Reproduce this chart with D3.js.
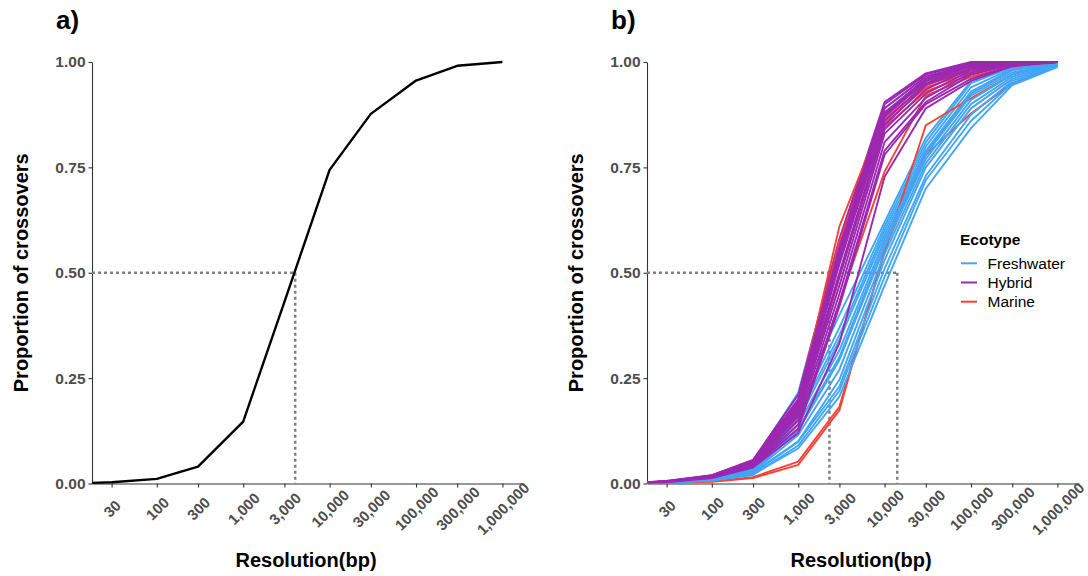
<!DOCTYPE html>
<html>
<head>
<meta charset="utf-8">
<script src="https://cdn.jsdelivr.net/npm/d3@7"></script>
<style>
  html, body { margin: 0; padding: 0; background: #fff; }
  svg { display: block; font-family: "Liberation Sans", Arial, Helvetica, sans-serif; }
</style>
</head>
<body>
<svg id="chart" width="1088" height="576"></svg>
<script>
// ---------------- data ----------------
const resolution = [10, 30, 100, 300, 1000, 3000, 10000, 30000, 100000, 300000, 1000000];
const xTickValues = [30, 100, 300, 1000, 3000, 10000, 30000, 100000, 300000, 1000000];
const yTickValues = [0, 0.25, 0.5, 0.75, 1];

const overallProportion = [0, 0.003, 0.011, 0.04, 0.147, 0.431, 0.744, 0.877, 0.956, 0.991, 1.0];
const overallHalf = 4000;
const ecotypeHalves = [2300, 14000];

const freshwater = [
  [0, 0.005, 0.018, 0.052, 0.215, 0.58, 0.89, 0.965, 0.995, 1.0, 1.0],
  [0, 0.004, 0.016, 0.048, 0.20, 0.55, 0.87, 0.955, 0.99, 0.998, 1.0],
  [0, 0.004, 0.014, 0.045, 0.19, 0.40, 0.62, 0.82, 0.955, 0.99, 1.0],
  [0, 0.004, 0.013, 0.040, 0.17, 0.37, 0.61, 0.81, 0.95, 0.988, 0.999],
  [0, 0.003, 0.012, 0.038, 0.16, 0.352, 0.60, 0.80, 0.94, 0.985, 0.998],
  [0, 0.003, 0.012, 0.036, 0.15, 0.34, 0.59, 0.79, 0.93, 0.982, 0.997],
  [0, 0.003, 0.011, 0.034, 0.14, 0.316, 0.58, 0.785, 0.925, 0.98, 0.996],
  [0, 0.003, 0.010, 0.032, 0.13, 0.30, 0.57, 0.78, 0.92, 0.975, 0.995],
  [0, 0.003, 0.010, 0.030, 0.125, 0.293, 0.56, 0.77, 0.91, 0.97, 0.994],
  [0, 0.002, 0.009, 0.028, 0.115, 0.27, 0.545, 0.76, 0.90, 0.965, 0.993],
  [0, 0.002, 0.008, 0.026, 0.10, 0.246, 0.53, 0.75, 0.89, 0.96, 0.992],
  [0, 0.002, 0.008, 0.024, 0.099, 0.23, 0.51, 0.73, 0.875, 0.955, 0.99],
  [0, 0.002, 0.007, 0.020, 0.09, 0.22, 0.49, 0.72, 0.86, 0.95, 0.99],
  [0, 0.002, 0.007, 0.022, 0.083, 0.206, 0.47, 0.70, 0.843, 0.945, 0.988]
];
const hybrid = [
  [0, 0.006, 0.020, 0.056, 0.21, 0.58, 0.905, 0.973, 1.0, 1.0, 1.0],
  [0, 0.006, 0.019, 0.055, 0.20, 0.57, 0.90, 0.97, 0.998, 1.0, 1.0],
  [0, 0.005, 0.019, 0.053, 0.195, 0.56, 0.89, 0.965, 0.995, 1.0, 1.0],
  [0, 0.005, 0.018, 0.052, 0.19, 0.55, 0.88, 0.96, 0.995, 1.0, 1.0],
  [0, 0.005, 0.018, 0.050, 0.185, 0.54, 0.875, 0.96, 0.99, 1.0, 1.0],
  [0, 0.005, 0.017, 0.050, 0.18, 0.53, 0.87, 0.955, 0.99, 0.998, 1.0],
  [0, 0.005, 0.017, 0.048, 0.175, 0.52, 0.86, 0.95, 0.99, 0.998, 1.0],
  [0, 0.004, 0.016, 0.047, 0.17, 0.50, 0.85, 0.945, 0.985, 0.997, 1.0],
  [0, 0.004, 0.016, 0.046, 0.165, 0.49, 0.84, 0.935, 0.985, 0.997, 1.0],
  [0, 0.004, 0.015, 0.045, 0.16, 0.47, 0.83, 0.925, 0.98, 0.996, 1.0],
  [0, 0.004, 0.015, 0.044, 0.15, 0.45, 0.81, 0.915, 0.975, 0.995, 1.0],
  [0, 0.004, 0.014, 0.042, 0.14, 0.43, 0.79, 0.905, 0.97, 0.994, 1.0],
  [0, 0.004, 0.014, 0.040, 0.13, 0.42, 0.78, 0.90, 0.96, 0.992, 1.0],
  [0, 0.003, 0.013, 0.038, 0.12, 0.333, 0.728, 0.89, 0.955, 0.99, 1.0]
];
const marine = [
  [0, 0.005, 0.015, 0.045, 0.19, 0.61, 0.88, 0.95, 0.985, 0.998, 1.0],
  [0, 0.005, 0.015, 0.044, 0.175, 0.575, 0.865, 0.945, 0.98, 0.997, 1.0],
  [0, 0.004, 0.014, 0.042, 0.165, 0.53, 0.855, 0.94, 0.975, 0.996, 1.0],
  [0, 0.004, 0.013, 0.040, 0.155, 0.49, 0.845, 0.93, 0.97, 0.995, 1.0],
  [0, 0.004, 0.012, 0.036, 0.13, 0.43, 0.74, 0.92, 0.965, 0.99, 1.0],
  [0, 0.002, 0.005, 0.015, 0.052, 0.182, 0.55, 0.85, 0.914, 0.97, 1.0],
  [0, 0.002, 0.004, 0.013, 0.044, 0.174, 0.555, 0.78, 0.878, 0.949, 0.99]
];

const ecotypes = ["Freshwater", "Hybrid", "Marine"];
const ecotypeColors = ["#42A5F5", "#9C27B0", "#F44336"];

// ---------------- layout ----------------
const svg = d3.select("#chart");
const fontFam = '"Liberation Sans", Arial, Helvetica, sans-serif';
const panelW = 432, plotTop = 62, plotBottom = 483.5;
const panels = [{ left: 92, label: "a)" }, { left: 647, label: "b)" }];

const y = d3.scaleLinear().domain([0, 1]).range([plotBottom, plotTop]);

function drawPanel(p, idx) {
  const x = d3.scaleLog().domain([Math.pow(10, 1.25), Math.pow(10, 6.25)]).range([p.left, p.left + panelW]);
  const g = svg.append("g");

  const clipId = "clip" + idx;
  svg.append("defs").append("clipPath").attr("id", clipId)
    .append("rect").attr("x", p.left).attr("y", plotTop - 10).attr("width", panelW).attr("height", plotBottom - plotTop + 20);

  const xAxis = d3.axisBottom(x).tickValues(xTickValues).tickFormat(d3.format(",")).tickSize(4).tickSizeOuter(0);
  const gx = g.append("g").attr("transform", `translate(0,${plotBottom})`).call(xAxis);
  gx.select(".domain").attr("stroke", "#333").attr("stroke-width", 1.1);
  gx.selectAll(".tick line").attr("stroke", "#333").attr("stroke-width", 1.1);
  gx.selectAll(".tick text")
    .attr("y", null).attr("dy", null)
    .attr("transform", "translate(0,25) rotate(-45)")
    .attr("text-anchor", "middle")
    .attr("dominant-baseline", "central")
    .attr("fill", "#4D4D4D")
    .style("font-family", fontFam).style("font-size", "15px").style("font-weight", "bold");

  const yAxis = d3.axisLeft(y).tickValues(yTickValues).tickFormat(d3.format(".2f")).tickSize(3.5).tickSizeOuter(0).tickPadding(3);
  const gy = g.append("g").attr("transform", `translate(${p.left},0)`).call(yAxis);
  gy.select(".domain").attr("stroke", "#333").attr("stroke-width", 1.1);
  gy.selectAll(".tick line").attr("stroke", "#333").attr("stroke-width", 1.1);
  gy.selectAll(".tick text")
    .attr("fill", "#4D4D4D")
    .style("font-family", fontFam).style("font-size", "15.5px").style("font-weight", "bold");

  g.append("text").attr("x", p.left + panelW / 2 - 2).attr("y", 567)
    .attr("text-anchor", "middle").style("font-size", "20px").style("font-weight", "bold")
    .attr("fill", "#000").text("Resolution(bp)");
  g.append("text").attr("transform", `translate(${p.left - 64},${(plotTop + plotBottom) / 2}) rotate(-90)`)
    .attr("text-anchor", "middle").style("font-size", "20px").style("font-weight", "bold")
    .attr("fill", "#000").text("Proportion of crossovers");

  g.append("text").attr("x", p.left - 36).attr("y", 29)
    .style("font-size", "26px").style("font-weight", "bold").attr("fill", "#000").text(p.label);

  return { x, g, clipId };
}

const line = (x) => d3.line().x((d, i) => x(resolution[i])).y(d => y(d));

function drawGuides(g, x, xs) {
  const maxX = d3.max(xs);
  g.append("line").attr("x1", x.range()[0]).attr("x2", x(maxX)).attr("y1", y(0.5)).attr("y2", y(0.5))
    .attr("stroke", "#808080").attr("stroke-width", 2.5).attr("stroke-dasharray", "3,3");
  xs.forEach(v => {
    g.append("line").attr("x1", x(v)).attr("x2", x(v)).attr("y1", y(0.5)).attr("y2", y(0))
      .attr("stroke", "#808080").attr("stroke-width", 2.5).attr("stroke-dasharray", "3,3");
  });
}

const A = drawPanel(panels[0], 0);
drawGuides(A.g, A.x, [overallHalf]);
A.g.append("path").datum(overallProportion)
  .attr("clip-path", `url(#${A.clipId})`)
  .attr("d", line(A.x)).attr("fill", "none").attr("stroke", "#000").attr("stroke-width", 2.4)
  .attr("stroke-linejoin", "round");

const B = drawPanel(panels[1], 1);
drawGuides(B.g, B.x, ecotypeHalves);
const groups = [freshwater, hybrid, marine];
const seriesOrder = [];
const maxLen = d3.max(groups, gr => gr.length);
for (let i = 0; i < maxLen; i++) {
  groups.forEach((gr, k) => { if (i < gr.length) seriesOrder.push({ vals: gr[i], k }); });
}
B.g.append("g").attr("clip-path", `url(#${B.clipId})`)
  .selectAll("path").data(seriesOrder).join("path")
  .attr("d", d => line(B.x)(d.vals))
  .attr("fill", "none").attr("stroke", d => ecotypeColors[d.k]).attr("stroke-width", 1.9)
  .attr("stroke-linejoin", "round");

const leg = svg.append("g").attr("transform", "translate(960,0)");
leg.append("text").attr("x", 0).attr("y", 244.5).style("font-size", "15.5px").style("font-weight", "bold")
  .attr("fill", "#000").text("Ecotype");
ecotypes.forEach((name, i) => {
  const cy = 263.3 + i * 19.2;
  leg.append("line").attr("x1", 1).attr("x2", 17).attr("y1", cy).attr("y2", cy)
    .attr("stroke", ecotypeColors[i]).attr("stroke-width", 2);
  leg.append("text").attr("x", 27.5).attr("y", cy).attr("dominant-baseline", "central")
    .style("font-size", "15.5px").attr("fill", "#000").text(name);
});
</script>
</body>
</html>
